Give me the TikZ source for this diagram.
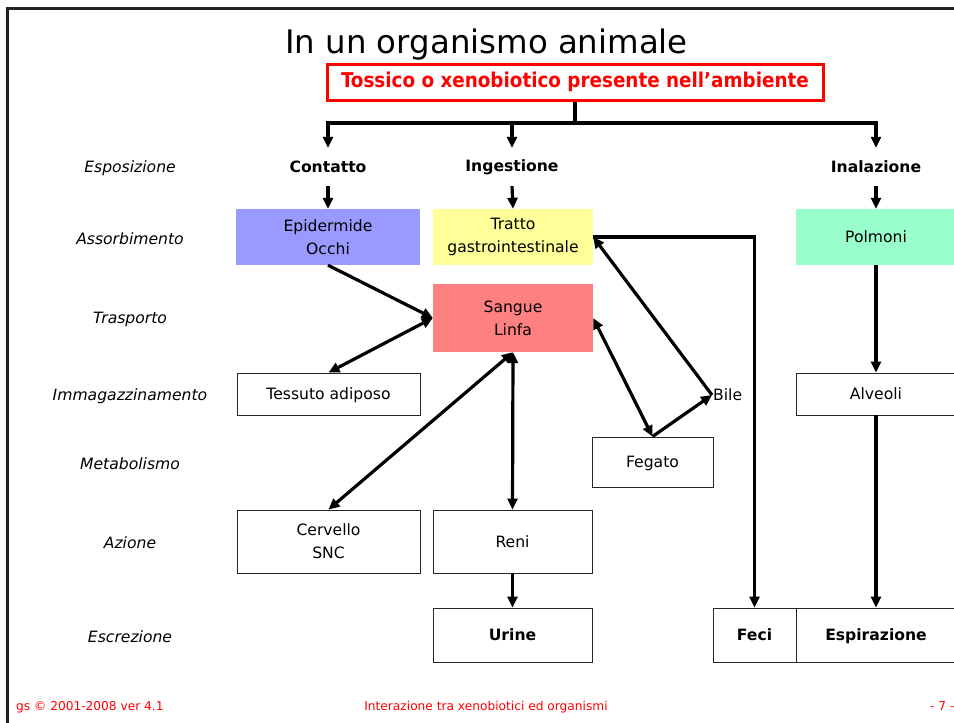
\documentclass[tikz,border=0pt]{standalone}
\usepackage{fontspec}
\setmainfont{DejaVu Sans}
\newfontfamily\condfont{DejaVu Sans Condensed}
\usetikzlibrary{arrows.meta}
\definecolor{epic}{HTML}{9999FF}
\definecolor{tratc}{HTML}{FFFF99}
\definecolor{polc}{HTML}{99FFCC}
\definecolor{sangc}{HTML}{FF8080}
\definecolor{framec}{HTML}{222222}
\begin{document}
\begin{tikzpicture}[x=1pt,y=-1pt,
  txt/.style={font=\fontsize{15.6}{23}\selectfont, align=center, inner sep=0pt},
  one/.style={text depth=0pt},
  wbox/.style={txt, draw=black!85, line width=0.9pt, fill=white},
  side/.style={font=\fontsize{15.6}{19}\selectfont\itshape, inner sep=0pt},
  route/.style={txt, font=\fontsize{15.6}{19}\selectfont\bfseries, minimum height=38pt},
  arr/.style={line width=3.2pt, -{Triangle[length=11pt,width=10pt]}},
  darr/.style={line width=3.2pt, {Triangle[length=11pt,width=10pt]}-{Triangle[length=11pt,width=10pt]}},
  ln/.style={line width=3.2pt},
  foot/.style={font=\fontsize{12.2}{14}\selectfont, text=red, inner sep=0pt}
]
\useasboundingbox (0,0) rectangle (954,723);
\clip (0,0) rectangle (954,723);
% frame
\draw[framec, line width=3pt] (7,723) -- (7,8) -- (960,8);
% title
\node[anchor=base, font=\fontsize{32.4}{36}\selectfont, inner sep=0pt] (title) at (486.5,53) {In un organismo animale};
% header
\node[draw=red, line width=3pt, minimum width=496pt, minimum height=36pt, inner sep=0pt,
      font=\condfont\bfseries\fontsize{20.4}{24}\selectfont, text=red] (tox) at (575,82) {Tossico o xenobiotico presente nell’ambiente};
% routes
\node[route] (cont) at (328,167) {Contatto};
\node[route] (inge) at (512,167) {Ingestione};
\node[route] (inal) at (876,167) {Inalazione};
% side labels
\node[side] (s1) at (130,168) {Esposizione};
\node[side] (s2) at (130,239) {Assorbimento};
\node[side] (s3) at (130,319) {Trasporto};
\node[side] (s4) at (130,396) {Immagazzinamento};
\node[side] (s5) at (130,464) {Metabolismo};
\node[side] (s6) at (130,543) {Azione};
\node[side] (s7) at (130,637) {Escrezione};
% boxes
\node[txt, fill=epic, minimum width=184pt, minimum height=56pt] (epi) at (328,237) {Epidermide\\Occhi};
\node[txt, fill=tratc, minimum width=160pt, minimum height=56pt] (tra) at (513,237) {Tratto\\gastrointestinale};
\node[txt, one, fill=polc, minimum width=160pt, minimum height=56pt] (pol) at (876,237) {Polmoni};
\node[txt, fill=sangc, minimum width=160pt, minimum height=68pt] (san) at (513,318) {Sangue\\Linfa};
\node[wbox, one, minimum width=183pt, minimum height=42pt] (tes) at (328.5,394) {Tessuto adiposo};
\node[wbox, one, minimum width=160pt, minimum height=42pt] (alv) at (876,394) {Alveoli};
\node[wbox, one, minimum width=121pt, minimum height=50pt] (feg) at (652.5,462) {Fegato};
\node[wbox, minimum width=183pt, minimum height=63pt] (cer) at (328.5,541.5) {Cervello\\SNC};
\node[wbox, one, minimum width=159pt, minimum height=63pt] (ren) at (512.5,541.5) {Reni};
\node[wbox, one, minimum width=159pt, minimum height=54pt, font=\fontsize{15.6}{19}\selectfont\bfseries] (uri) at (512.5,635) {Urine};
\node[wbox, one, minimum width=83pt, minimum height=54pt, font=\fontsize{15.6}{19}\selectfont\bfseries] (fec) at (754.5,635) {Feci};
\node[wbox, one, minimum width=160pt, minimum height=54pt, font=\fontsize{15.6}{19}\selectfont\bfseries] (esp) at (876,635) {Espirazione};
\node[txt, anchor=west, inner sep=1pt] (bil) at (712,395) {Bile};
% header connectors
\coordinate (jn) at (575,123);
\draw[ln] (tox.south) -- (jn);
\draw[arr] (jn) -| (cont.north);
\draw[arr] (jn) -| (inge.north);
\draw[arr] (jn) -| (inal.north);
\draw[arr] (cont.south) -- (epi.north);
\draw[arr] (inge.south) -- (tra.north);
\draw[arr] (inal.south) -- (pol.north);
% body connectors
\draw[arr] (epi.south) -- (san.west);
\draw[darr] (san.west) -- (tes.north);
\draw[darr] (san.south) -- (cer.north);
\draw[darr] (san.south) -- (ren.north);
\draw[arr] (ren.south) -- (uri.north);
\draw[darr] (san.east) -- (feg.north);
\draw[arr] (feg.north) -- (bil.west);
\draw[arr] (bil.west) -- (tra.east);
\draw[arr] (tra.east) -| (fec.north);
\draw[arr] (pol.south) -- (alv.north);
\draw[arr] (alv.south) -- (esp.north);
% footer
\node[foot, anchor=base west] (f1) at (16,710) {gs © 2001-2008 ver 4.1};
\node[foot, anchor=base] (f2) at (486,710) {Interazione tra xenobiotici ed organismi};
\node[foot, anchor=base west] (f3) at (930,710) {- 7 -};
\end{tikzpicture}
\end{document}
